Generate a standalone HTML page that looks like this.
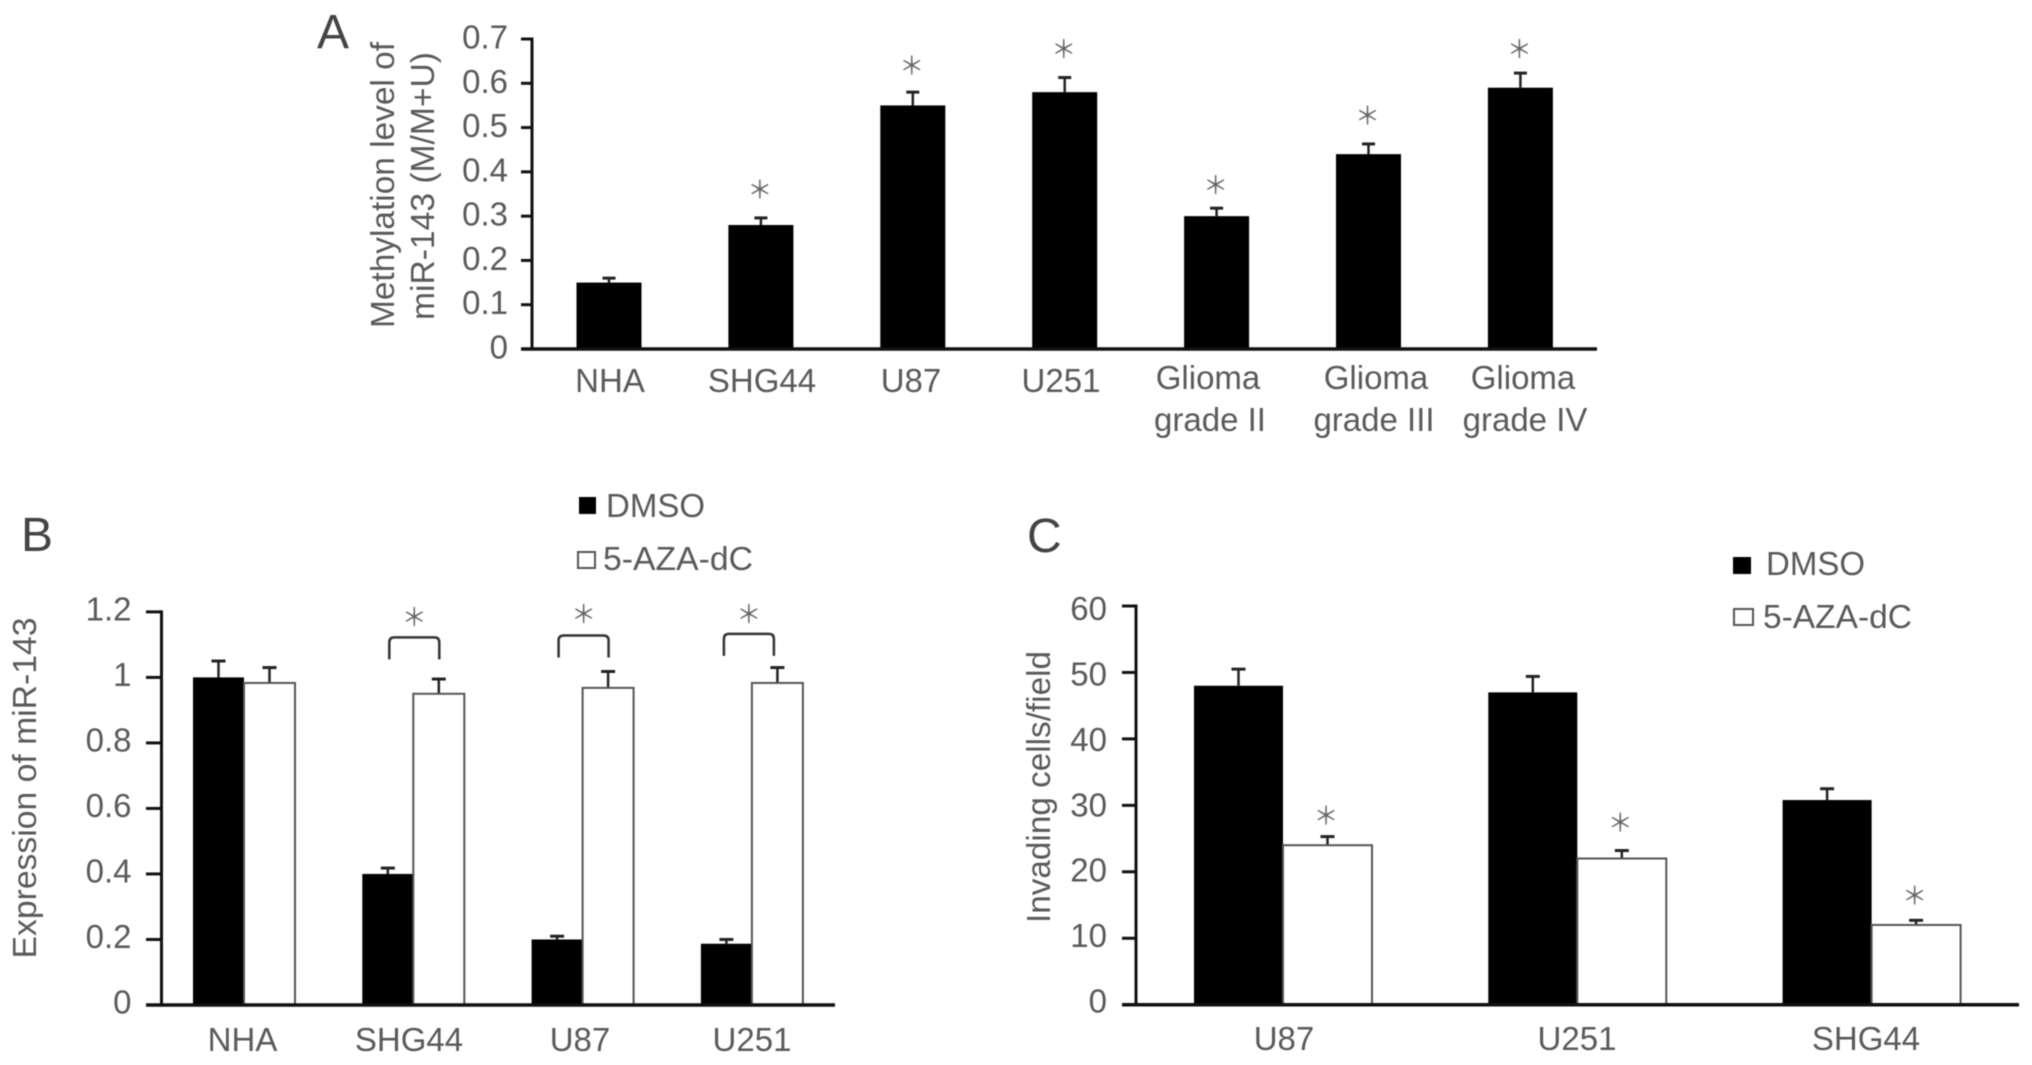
<!DOCTYPE html>
<html lang="en">
<head>
<meta charset="utf-8">
<title>miR-143 methylation, expression and invasion</title>
<style>
html,body{margin:0;padding:0;background:#fff;width:2032px;height:1065px;overflow:hidden}
svg{display:block;filter:blur(.6px)}
text{font-family:"Liberation Sans","Noto Sans CJK JP",sans-serif;fill:#5a5a5a;font-size:33px}
.panel{font-size:48px;fill:#444}
.star{font-family:"Noto Sans CJK JP","Liberation Sans",sans-serif;font-size:25px;fill:#666;text-anchor:middle}
.mid{text-anchor:middle}
</style>
</head>
<body>
<svg id="fig" width="2032" height="1065" viewBox="0 0 2032 1065" xmlns="http://www.w3.org/2000/svg">
  <rect width="2032" height="1065" fill="#fff"/>

  <text class="panel" x="317" y="48">A</text>
  <text class="panel" x="21" y="551">B</text>
  <text class="panel" x="1027" y="552">C</text>

  <text class="mid" transform="translate(394 185) rotate(-90)" textLength="286" lengthAdjust="spacingAndGlyphs">Methylation level of</text>
  <text class="mid" transform="translate(434 186) rotate(-90)" textLength="268" lengthAdjust="spacingAndGlyphs">miR-143 (M/M+U)</text>
  <text class="mid" transform="translate(36 788) rotate(-90)" textLength="341" lengthAdjust="spacingAndGlyphs">Expression of miR-143</text>
  <text class="mid" transform="translate(1050 787) rotate(-90)" textLength="272" lengthAdjust="spacingAndGlyphs">Invading cells/field</text>

  <g>
    <text class="mid" x="610" y="392">NHA</text>
    <text class="mid" x="762" y="392">SHG44</text>
    <text class="mid" x="911" y="392">U87</text>
    <text class="mid" x="1061" y="392">U251</text>
    <text class="mid" x="1208" y="389">Glioma</text>
    <text class="mid" x="1210" y="431">grade II</text>
    <text class="mid" x="1376" y="389">Glioma</text>
    <text class="mid" x="1374" y="431">grade III</text>
    <text class="mid" x="1523" y="389">Glioma</text>
    <text class="mid" x="1525" y="431">grade IV</text>
  </g>
  <g>
    <text class="mid" x="242.5" y="1051">NHA</text>
    <text class="mid" x="409" y="1051">SHG44</text>
    <text class="mid" x="580" y="1051">U87</text>
    <text class="mid" x="752" y="1051">U251</text>
  </g>
  <g>
    <text class="mid" x="1284" y="1050">U87</text>
    <text class="mid" x="1577" y="1050">U251</text>
    <text class="mid" x="1866" y="1050">SHG44</text>
  </g>

  <g>
    <rect x="579" y="497" width="17" height="17" fill="#000"/>
    <text x="606" y="517">DMSO</text>
    <rect x="578" y="552" width="17" height="16" fill="#fff" stroke="#555" stroke-width="2"/>
    <text x="603" y="570" textLength="150" lengthAdjust="spacingAndGlyphs">5-AZA-dC</text>
  </g>
  <g>
    <rect x="1733" y="557" width="18" height="17" fill="#000"/>
    <text x="1766" y="575">DMSO</text>
    <rect x="1734" y="609" width="19" height="16" fill="#fff" stroke="#555" stroke-width="2"/>
    <text x="1763" y="628" textLength="149" lengthAdjust="spacingAndGlyphs">5-AZA-dC</text>
  </g>
  <g id="marks"></g>
</svg>
<script>
// Panel A data
const catsA = ['NHA', 'SHG44', 'U87', 'U251', 'Glioma grade II', 'Glioma grade III', 'Glioma grade IV'];
const valuesA = [0.15, 0.28, 0.55, 0.58, 0.30, 0.44, 0.59];
const errTopsA = [0.16, 0.296, 0.58, 0.613, 0.318, 0.463, 0.623];
const starsA = [null, 0.36, 0.64, 0.677, 0.37, 0.527, 0.677];
const ticksA = [0, 0.1, 0.2, 0.3, 0.4, 0.5, 0.6, 0.7];

// Panel B data
const catsB = ['NHA', 'SHG44', 'U87', 'U251'];
const dmsoB = [1.0, 0.4, 0.2, 0.187];
const azaB = [0.983, 0.95, 0.968, 0.983];
const dmsoErrB = [1.05, 0.418, 0.21, 0.2];
const azaErrB = [1.03, 0.995, 1.018, 1.03];
const bracketB = [null, 1.122, 1.128, 1.133];
const starsB = [null, 1.184, 1.194, 1.194];
const ticksB = ['0', '0.2', '0.4', '0.6', '0.8', '1', '1.2'];

// Panel C data
const catsC = ['U87', 'U251', 'SHG44'];
const dmsoC = [48, 47, 30.8];
const azaC = [24, 22, 12];
const dmsoErrC = [50.5, 49.4, 32.5];
const azaErrC = [25.3, 23.2, 12.7];
const starsC = [28.5, 27.4, 16.4];
const ticksC = [0, 10, 20, 30, 40, 50, 60];

const NS = 'http://www.w3.org/2000/svg';
const root = document.getElementById('marks');
function mk(tag, attrs, txt) {
  const e = document.createElementNS(NS, tag);
  for (const k in attrs) e.setAttribute(k, attrs[k]);
  if (txt !== undefined) e.textContent = txt;
  root.appendChild(e);
  return e;
}
function slug(s) { return String(s).toLowerCase().replace(/[^a-z0-9]+/g, '-'); }

// axis functions
const yA = v => 349 - v * 310 / 0.7;
const xA = i => 609 + 151.9 * i;
const yB = v => 1005 - v * 327.6;
const xB = i => 244 + 169.3 * i;
const yC = v => 1004.7 - v * 6.645;
const xC = i => 1283 + 294.3 * i;

function bar(panel, cx, w, top, base, filled, label) {
  const el = mk('rect', { x: cx - w / 2, y: top, width: w, height: base - top,
    fill: filled ? '#000' : '#fff', stroke: filled ? 'none' : '#555', 'stroke-width': filled ? 0 : 2 });
  
  
}
function errorBar(panel, cx, from, to, cap, label) {
  const stem = mk('line', { x1: cx, x2: cx, y1: from, y2: to, stroke: '#222', 'stroke-width': 2.5 });
  
  
  const c = mk('line', { x1: cx - cap / 2, x2: cx + cap / 2, y1: to, y2: to, stroke: '#222', 'stroke-width': 3 });
  
  
}
function star(panel, cx, cy, label) {
  const t = mk('text', { class: 'star', x: cx, y: cy + 9 }, '＊');
  
  
}
function axes(panel, x0, xEnd, tickLeft, y0, yTop, ticks, yFn, labelRight, labelY) {
  const v = mk('line', { x1: x0, x2: x0, y1: yTop - 1.5, y2: y0 + 1, stroke: '#111', 'stroke-width': 3 });
  
  
  const h = mk('line', { x1: tickLeft, x2: xEnd, y1: y0, y2: y0, stroke: '#111', 'stroke-width': 3.5 });
  
  
  ticks.forEach((tk, i) => {
    const y = yFn(Number(tk));
    const l = mk('line', { x1: tickLeft, x2: x0, y1: y, y2: y, stroke: '#111', 'stroke-width': 3 });
    
    
    const t = mk('text', { x: labelRight, y: labelY(y, i), 'text-anchor': 'end' }, String(tk));
    
    
  });
}

// Panel A
catsA.forEach((c, i) => {
  errorBar('a', xA(i), yA(valuesA[i]), yA(errTopsA[i]), 13, c);
  bar('a', xA(i), 65, yA(valuesA[i]), yA(0), true, c);
  if (starsA[i] !== null) star('a', xA(i) - 1, yA(starsA[i]), c);
});
axes('a', 532, 1597, 521, yA(0), yA(0.7), ticksA, yA, 508, y => y + 9.5);

// Panel B
catsB.forEach((c, i) => {
  const cx = xB(i);
  errorBar('b', cx - 25.5, yB(dmsoB[i]), yB(dmsoErrB[i]), 14, c + '-dmso');
  errorBar('b', cx + 25.5, yB(azaB[i]), yB(azaErrB[i]), 14, c + '-aza');
  bar('b', cx - 25.5, 51, yB(dmsoB[i]), yB(0), true, c + '-dmso');
  bar('b', cx + 25.5, 51, yB(azaB[i]), yB(0), false, c + '-aza');
  if (bracketB[i] !== null) {
    const t = yB(bracketB[i]);
    const sx = cx + (i === 3 ? -3 : 1);
    const br = mk('path', { d: 'M' + (sx - 25) + ' ' + (t + 22) + 'V' + (t + 5) + 'Q' + (sx - 25) + ' ' + t + ' ' + (sx - 20) + ' ' + t +
      'H' + (sx + 20) + 'Q' + (sx + 25) + ' ' + t + ' ' + (sx + 25) + ' ' + (t + 5) + 'V' + (t + 22),
      fill: 'none', stroke: '#333', 'stroke-width': 2.5 });
    
    
    star('b', sx, yB(starsB[i]), c);
  }
});
axes('b', 161.5, 835, 146, yB(0), yB(1.2), ticksB, yB, 131.5, y => y + 8.5);

// Panel C
catsC.forEach((c, i) => {
  const cx = xC(i);
  errorBar('c', cx - 44.5, yC(dmsoC[i]), yC(dmsoErrC[i]), 14, c + '-dmso');
  errorBar('c', cx + 44.5, yC(azaC[i]), yC(azaErrC[i]), 14, c + '-aza');
  bar('c', cx - 44.5, 89, yC(dmsoC[i]), yC(0), true, c + '-dmso');
  bar('c', cx + 44.5, 89, yC(azaC[i]), yC(0), false, c + '-aza');
  star('c', cx + 43, yC(starsC[i]), c);
});
axes('c', 1136, 2019, 1122, yC(0), yC(60), ticksC, yC, 1107, (y, i) => 1012.5 - i * 65.4);
</script>
</body>
</html>
